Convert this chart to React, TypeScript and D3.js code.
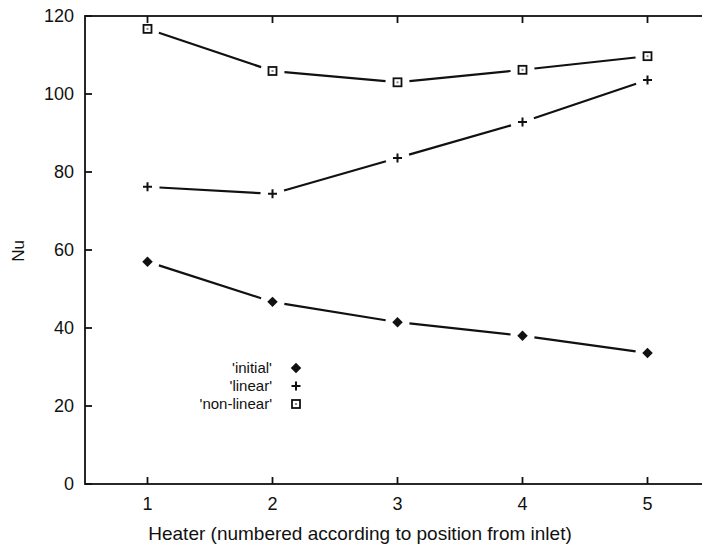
import { useRef, useEffect } from "react";
import * as d3 from "d3";

const heaters = [1, 2, 3, 4, 5];
const initialNu = [57, 46.7, 41.5, 38, 33.6];
const linearNu = [76.2, 74.4, 83.6, 92.8, 103.6];
const nonLinearNu = [116.7, 105.9, 103, 106.2, 109.7];
const yTicks = [0, 20, 40, 60, 80, 100, 120];
const legendLabels = ["'initial'", "'linear'", "'non-linear'"];

const App = () => {
  const svgRef = useRef<SVGSVGElement>(null);

  useEffect(() => {
    document.body.style.margin = "0";
    const svg = d3.select(svgRef.current);
    svg.selectAll("*").remove();

    const font = "'Liberation Sans', Arial, sans-serif";
    const x = d3.scaleLinear().domain([0.5, 5.5]).range([85, 710]);
    const y = d3.scaleLinear().domain([0, 120]).range([484, 16]);

    const g = svg.append("g");

    // frame
    g.append("rect")
      .attr("x", x(0.5))
      .attr("y", y(120))
      .attr("width", x(5.5) - x(0.5))
      .attr("height", y(0) - y(120))
      .attr("fill", "none")
      .attr("stroke", "#111")
      .attr("stroke-width", 1.8);

    // y ticks (inward)
    g.selectAll(".yt")
      .data(yTicks)
      .join("line")
      .attr("x1", x(0.5))
      .attr("x2", x(0.5) + 7)
      .attr("y1", (d) => y(d))
      .attr("y2", (d) => y(d))
      .attr("stroke", "#111")
      .attr("stroke-width", 1.8);

    g.selectAll(".yl")
      .data(yTicks)
      .join("text")
      .attr("x", 74)
      .attr("y", (d) => y(d))
      .attr("dy", "0.36em")
      .attr("text-anchor", "end")
      .attr("font-family", font)
      .attr("font-size", 18)
      .attr("fill", "#111")
      .text((d) => d);

    // x ticks bottom and top
    g.selectAll(".xb")
      .data(heaters)
      .join("line")
      .attr("x1", (d) => x(d))
      .attr("x2", (d) => x(d))
      .attr("y1", y(0))
      .attr("y2", y(0) - 7)
      .attr("stroke", "#111")
      .attr("stroke-width", 1.8);
    g.selectAll(".xt")
      .data(heaters)
      .join("line")
      .attr("x1", (d) => x(d))
      .attr("x2", (d) => x(d))
      .attr("y1", y(120))
      .attr("y2", y(120) + 7)
      .attr("stroke", "#111")
      .attr("stroke-width", 1.8);

    g.selectAll(".xl")
      .data(heaters)
      .join("text")
      .attr("x", (d) => x(d))
      .attr("y", 510)
      .attr("text-anchor", "middle")
      .attr("font-family", font)
      .attr("font-size", 18)
      .attr("fill", "#111")
      .text((d) => d);

    g.append("text")
      .attr("x", 360)
      .attr("y", 540)
      .attr("text-anchor", "middle")
      .attr("font-family", font)
      .attr("font-size", 19)
      .attr("fill", "#111")
      .text("Heater (numbered according to position from inlet)");

    g.append("text")
      .attr("transform", "translate(24,251) rotate(-90)")
      .attr("text-anchor", "middle")
      .attr("font-family", font)
      .attr("font-size", 17)
      .attr("fill", "#111")
      .text("Nu");

    // lines drawn gnuplot-style, with a gap around each point
    const gap = 12;
    const drawSegments = (vals: number[]) => {
      const pts = heaters.map((h, i) => [x(h), y(vals[i])]);
      for (let i = 0; i < pts.length - 1; i++) {
        const [x0, y0] = pts[i];
        const [x1, y1] = pts[i + 1];
        const len = Math.hypot(x1 - x0, y1 - y0);
        const ux = (x1 - x0) / len;
        const uy = (y1 - y0) / len;
        g.append("line")
          .attr("x1", x0 + ux * gap)
          .attr("y1", y0 + uy * gap)
          .attr("x2", x1 - ux * gap)
          .attr("y2", y1 - uy * gap)
          .attr("stroke", "#111")
          .attr("stroke-width", 2.2);
      }
    };
    drawSegments(initialNu);
    drawSegments(linearNu);
    drawSegments(nonLinearNu);

    const diamond = (cx: number, cy: number) => {
      g.append("path")
        .attr("d", d3.symbol(d3.symbolDiamond2, 70)())
        .attr("transform", `translate(${cx},${cy})`)
        .attr("fill", "#111");
    };
    const plus = (cx: number, cy: number) => {
      g.append("path")
        .attr("d", `M${cx - 4.5},${cy}H${cx + 4.5}M${cx},${cy - 4.5}V${cy + 4.5}`)
        .attr("stroke", "#111")
        .attr("stroke-width", 2);
    };
    const square = (cx: number, cy: number) => {
      g.append("rect")
        .attr("x", cx - 4)
        .attr("y", cy - 4)
        .attr("width", 8)
        .attr("height", 8)
        .attr("fill", "#fff")
        .attr("stroke", "#111")
        .attr("stroke-width", 1.8);
      g.append("rect")
        .attr("x", cx - 1)
        .attr("y", cy - 1)
        .attr("width", 2)
        .attr("height", 2)
        .attr("fill", "#888");
    };

    heaters.forEach((h, i) => {
      diamond(x(h), y(initialNu[i]));
      plus(x(h), y(linearNu[i]));
      square(x(h), y(nonLinearNu[i]));
    });

    // legend
    const markers = [diamond, plus, square];
    legendLabels.forEach((lab, i) => {
      const ly = 368 + i * 18;
      g.append("text")
        .attr("x", 272)
        .attr("y", ly)
        .attr("dy", "0.36em")
        .attr("text-anchor", "end")
        .attr("font-family", font)
        .attr("font-size", 15)
        .attr("fill", "#111")
        .text(lab);
      markers[i](296, ly);
    });
  }, []);

  return (
    <div style={{ width: 702, height: 545, overflow: "hidden" }}>
      <svg ref={svgRef} width={702} height={545} style={{ display: "block", background: "#fff" }} />
    </div>
  );
};

export default App;
